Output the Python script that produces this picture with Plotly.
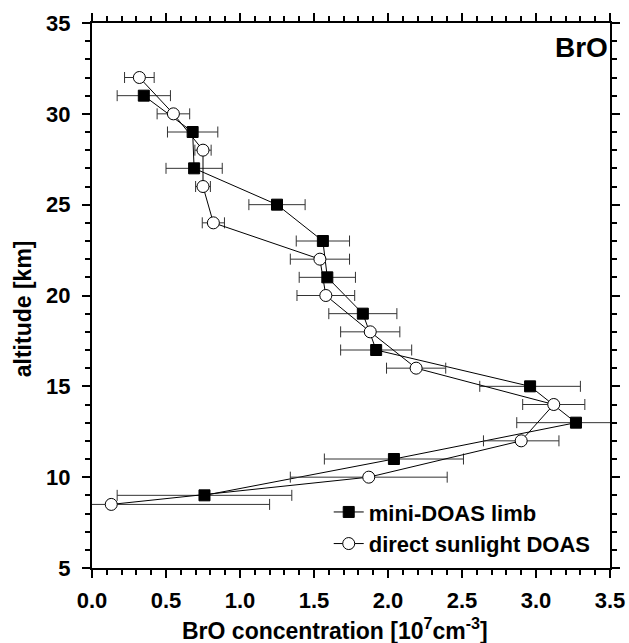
import plotly.graph_objects as go

# mini-DOAS limb (filled squares)
limb_alt = [31, 29, 27, 25, 23, 21, 19, 17, 15, 13, 11, 9]
limb_bro = [0.35, 0.68, 0.69, 1.25, 1.56, 1.59, 1.83, 1.92, 2.96, 3.27, 2.04, 0.76]
limb_err = [0.18, 0.17, 0.19, 0.19, 0.18, 0.19, 0.23, 0.24, 0.34, 0.40, 0.47, 0.59]

# direct sunlight DOAS (open circles)
sun_alt = [32, 30, 28, 26, 24, 22, 20, 18, 16, 14, 12, 10, 8.5]
sun_bro = [0.32, 0.55, 0.75, 0.75, 0.82, 1.54, 1.58, 1.88, 2.19, 3.12, 2.90, 1.87, 0.13]
sun_err = [0.10, 0.11, 0.055, 0.05, 0.075, 0.20, 0.195, 0.20, 0.20, 0.21, 0.255, 0.53, 1.07]

x_ticks = [0.0, 0.5, 1.0, 1.5, 2.0, 2.5, 3.0, 3.5]
y_ticks = [5, 10, 15, 20, 25, 30, 35]

FONT = "Liberation Sans, Arial, sans-serif"

fig = go.Figure()
fig.add_trace(go.Scatter(
    x=limb_bro, y=limb_alt, mode="lines+markers", name="mini-DOAS limb",
    line=dict(color="black", width=1),
    marker=dict(symbol="square", size=11, color="black", line=dict(color="black", width=1)),
    error_x=dict(type="data", array=limb_err, visible=True, color="#333333", thickness=1, width=5.5),
))
fig.add_trace(go.Scatter(
    x=sun_bro, y=sun_alt, mode="lines+markers", name="direct sunlight DOAS",
    line=dict(color="black", width=1),
    marker=dict(symbol="circle", size=12, color="white", line=dict(color="black", width=1)),
    error_x=dict(type="data", array=sun_err, visible=True, color="#333333", thickness=1, width=5.5),
))

axis_common = dict(
    showline=True, linecolor="black", linewidth=2, mirror="allticks",
    ticks="outside", ticklen=8, tickwidth=2, tickcolor="black",
    showgrid=False, zeroline=False, automargin=False,
    tickfont=dict(family=FONT, size=22, color="black", weight="bold"),
)

fig.update_xaxes(
    range=[0, 3.5], tickvals=x_ticks, ticktext=[f"{v:.1f}" for v in x_ticks],
    minor=dict(dtick=0.1, ticks="outside", ticklen=5, tickwidth=2, tickcolor="black"),
    ticklabelstandoff=4,
    **axis_common,
)
fig.update_yaxes(
    range=[5, 35], tickvals=y_ticks, ticktext=[str(v) for v in y_ticks],
    minor=dict(dtick=1, ticks="outside", ticklen=5, tickwidth=2, tickcolor="black"),
    ticklabelstandoff=7,
    **axis_common,
)

title_font = dict(family=FONT, size=23, color="black", weight="bold")
fig.add_annotation(
    text="BrO concentration [10<sup>7</sup>cm<sup>-3</sup>]", xref="paper", yref="paper",
    x=0.469, y=-0.112, xanchor="center", yanchor="middle", showarrow=False, font=title_font,
)
fig.add_annotation(
    text="altitude [km]", xref="paper", yref="paper", textangle=-90,
    x=-0.133, y=0.475, xanchor="center", yanchor="middle", showarrow=False, font=title_font,
)
fig.add_annotation(
    text="BrO", xref="paper", yref="paper", x=1.0, y=0.955,
    xanchor="right", yanchor="middle", showarrow=False,
    font=dict(family=FONT, size=28, color="black", weight="bold"),
)

fig.update_layout(
    width=629, height=643,
    margin=dict(l=92, r=19, t=23, b=75),
    paper_bgcolor="white", plot_bgcolor="white",
    showlegend=True,
    legend=dict(x=0.457, y=0.141, xanchor="left", yanchor="top",
                bgcolor="rgba(0,0,0,0)", borderwidth=0,
                font=dict(family=FONT, size=22, color="black", weight="bold"),
                tracegroupgap=0),
)

fig.write_html("out.html", config={"displayModeBar": False},
               post_script="document.body.style.margin='0';")
